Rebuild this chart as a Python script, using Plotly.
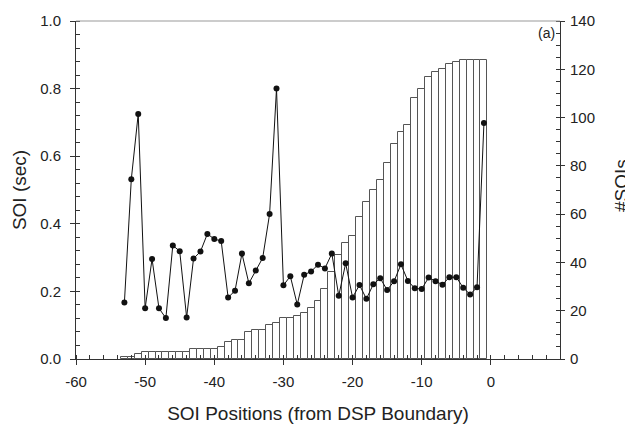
import plotly.graph_objects as go

positions = list(range(-53, 0))

soi_sec = [0.167, 0.532, 0.725, 0.150, 0.296, 0.150, 0.121, 0.336, 0.319, 0.123,
           0.297, 0.318, 0.370, 0.355, 0.349, 0.182, 0.202, 0.312, 0.224, 0.262,
           0.299, 0.429, 0.800, 0.218, 0.245, 0.161, 0.249, 0.259, 0.279, 0.268,
           0.312, 0.187, 0.283, 0.182, 0.219, 0.178, 0.221, 0.239, 0.204, 0.230,
           0.280, 0.231, 0.209, 0.207, 0.241, 0.230, 0.220, 0.242, 0.242, 0.211,
           0.191, 0.212, 0.698]

n_sois = [1, 1, 2, 3, 3, 3, 3, 3, 3, 3,
          4, 4, 4, 4, 5, 7, 8, 8, 11, 12,
          12, 14, 15, 17, 17, 18, 19, 21, 24, 29,
          36, 43, 48, 51, 59, 65, 70, 74, 81, 89,
          94, 97, 108, 112, 117, 119, 120, 122, 123, 124,
          124, 124, 124]

x_ticks = [-60, -50, -40, -30, -20, -10, 0]
x_tick_labels = ["-60", "-50", "-40", "-30", "-20", "-10", "0"]

FONT = "Liberation Sans, Arial, sans-serif"
AX = "#333333"
TXT = "#222222"

fig = go.Figure()

fig.add_trace(go.Bar(
    x=positions, y=n_sois, yaxis="y", width=1.0,
    marker=dict(color="white", line=dict(color="#555555", width=1)),
    showlegend=False,
))

fig.add_trace(go.Scatter(
    x=positions, y=soi_sec, yaxis="y2", mode="lines+markers",
    line=dict(color="#111111", width=1),
    marker=dict(color="#111111", size=6),
    showlegend=False,
))

# the page body has an 8px default margin, so the figure is sized 8px smaller
fig.update_layout(
    width=625, height=416,
    margin=dict(l=68, r=73, t=13, b=65, autoexpand=False),
    paper_bgcolor="white", plot_bgcolor="white",
    font=dict(family=FONT, size=15, color=TXT),
    bargap=0,
    xaxis=dict(
        range=[-60, 10], tickvals=x_ticks, ticktext=x_tick_labels,
        ticks="outside", ticklen=5, automargin=False, ticklabelstandoff=4,
        tickcolor=AX, showline=True, linecolor=AX, linewidth=1,
        mirror=False, showgrid=False, zeroline=False,
        minor=dict(dtick=2, tick0=0, ticks="inside", ticklen=4, tickcolor=AX),
        title=dict(text="SOI Positions (from DSP Boundary)",
                   font=dict(size=19, family=FONT, color=TXT), standoff=25),
        tickfont=dict(size=15),
    ),
    yaxis=dict(
        range=[0, 140], dtick=20, side="right", ticks="outside", ticklen=4,
        tickcolor=AX, showline=True, linecolor=AX, linewidth=1, automargin=False,
        showgrid=False, zeroline=False, ticklabelstandoff=2,
        minor=dict(dtick=5, ticks="inside", ticklen=4, tickcolor=AX),
        tickfont=dict(size=15),
    ),
    yaxis2=dict(
        range=[0, 1.0], dtick=0.2, tickformat=".1f", side="left", overlaying="y",
        ticks="outside", ticklen=5, tickcolor=AX, ticklabelstandoff=6,
        automargin=False,
        showline=True, linecolor=AX, linewidth=1, showgrid=False, zeroline=False,
        minor=dict(dtick=0.04, ticks="inside", ticklen=4, tickcolor=AX),
        title=dict(text="SOI (sec)", font=dict(size=19, family=FONT, color=TXT),
                   standoff=8),
        tickfont=dict(size=15),
    ),
    shapes=[dict(type="line", xref="paper", yref="paper", x0=0, x1=1, y0=1, y1=1,
                 line=dict(color="#999999", width=1))],
    annotations=[
        dict(text="(a)", xref="paper", yref="paper", x=0.994, y=0.995,
             xanchor="right", yanchor="top", showarrow=False,
             font=dict(size=14, family=FONT, color=TXT)),
        dict(text="#SOIs", xref="paper", yref="paper", x=1.0, xshift=62, y=0.512,
             xanchor="center", yanchor="middle", textangle=-90, showarrow=False,
             font=dict(size=19, family=FONT, color=TXT)),
    ],
)

fig.write_html("out.html")
